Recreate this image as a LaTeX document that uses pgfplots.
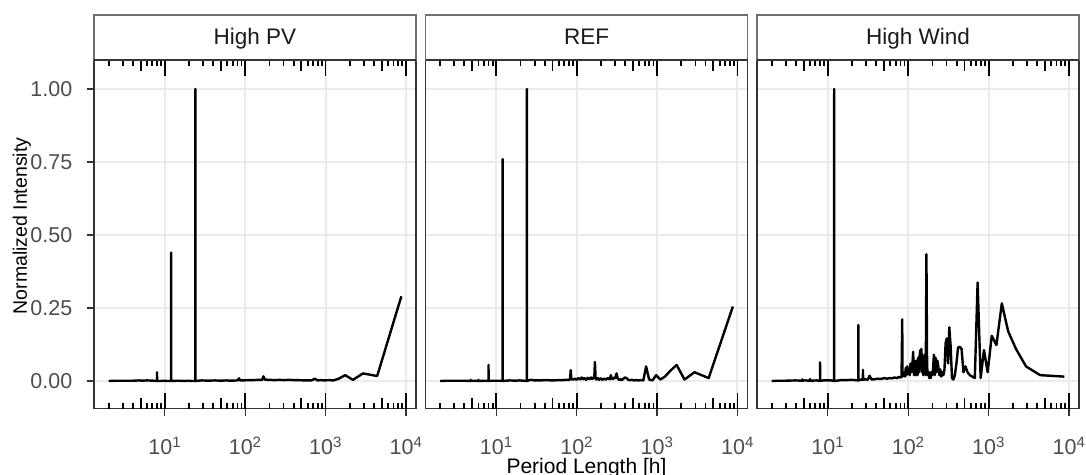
\documentclass[border=0pt]{standalone}
\usepackage{fontspec}
\setmainfont{Liberation Sans}
\usepackage{pgfplots}
\pgfplotsset{compat=1.18}
\usepackage{pgfplotstable}
\definecolor{grid92}{HTML}{EBEBEB}
\definecolor{grey20}{HTML}{333333}
\definecolor{grey30}{HTML}{4D4D4D}
\definecolor{grey10}{HTML}{1A1A1A}
\definecolor{stripborder}{HTML}{707070}

\pgfplotstableread{
P v
2 0
2.503 0.001
3.0 0.001
3.98 0.001
4.8 0.002
5.153 0.001
6 0.002
7.3 0.001
7.993 0
8 0.03
8.007 0
8.76 0
9.733 0.001
10.95 0
11.984 0
12 0.44
12.016 0
14.6 0.001
17.52 0
19.47 0.001
21.9 0
23.93 0
24 1.0
24.07 0
25.76 0.001
29.2 0.002
35.04 0.001
41.7 0.002
50.1 0.001
58.4 0.002
67.4 0.001
79.6 0.002
84.2 0.009
85.9 0.002
95.2 0.002
106.8 0.003
125.1 0.003
146 0.004
162.2 0.004
168.5 0.016
175.2 0.005
199.1 0.004
230.5 0.003
265.5 0.004
302.1 0.003
350.4 0.004
398.2 0.003
461.1 0.003
547.5 0.002
625.7 0.002
673.8 0.002
730 0.008
796.4 0.002
876 0.003
973.3 0.002
1095 0.003
1251.4 0.002
1460 0.008
1752 0.02
2190 0.004
2920 0.026
4380 0.017
8760 0.29
}\pvdata

\pgfplotstableread{
P v
2 0
2.503 0.001
3.0 0.001
3.98 0.001
4.797 0
4.8 0.004
4.803 0
5.153 0.001
5.996 0
6 0.004
6.004 0
7.3 0.001
7.993 0
8 0.055
8.007 0
8.76 0.001
9.733 0.001
10.95 0.001
11.984 0
12 0.76
12.016 0
14.6 0.002
17.52 0.001
19.47 0.002
21.9 0.001
23.93 0
24 1.0
24.07 0
25.76 0.003
27.375 0.004
29.2 0.002
35.04 0.002
41.7 0.003
50.1 0.002
58.4 0.003
67.4 0.003
73 0.004
79.6 0.004
82.6 0.005
84.2 0.037
85.9 0.006
89.4 0.005
95.2 0.008
99.5 0.004
104.3 0.01
109.5 0.005
115.3 0.012
120 0.006
125.1 0.01
130.7 0.004
136.9 0.011
143.6 0.006
151 0.012
156.4 0.007
162.2 0.012
165.3 0.01
168.5 0.065
171.8 0.008
175.2 0.005
182.5 0.01
190.4 0.004
199.1 0.009
208.6 0.004
219 0.008
230.5 0.005
243.3 0.01
257.6 0.006
265.5 0.02
273.8 0.008
282.6 0.006
292 0.012
302.1 0.01
312.9 0.026
324.4 0.008
336.9 0.004
350.4 0.006
365 0.003
380.9 0.008
398.2 0.012
417.1 0.01
438 0.004
461.1 0.003
486.7 0.004
515.3 0.002
547.5 0.003
584 0.002
625.7 0.003
673.8 0.002
730 0.05
796.4 0.005
876 0.002
973.3 0.02
1095 0.005
1251.4 0.015
1460 0.035
1752 0.055
2190 0.005
2920 0.03
4380 0.01
8760 0.255
}\refdata

\pgfplotstableread{
P v
2 0
2.503 0.001
3.0 0.001
3.98 0.002
4.797 0.001
4.8 0.006
4.803 0.001
5.153 0.002
5.996 0.001
6 0.007
6.004 0.001
7.3 0.002
7.993 0
8 0.064
8.007 0
8.76 0.002
9.733 0.002
10.95 0.002
11.984 0
12 1.0
12.016 0
14.6 0.003
17.52 0.003
19.47 0.004
21.9 0.003
23.93 0.002
24 0.192
24.07 0.002
25.76 0.005
27.29 0.004
27.375 0.038
27.46 0.004
29.2 0.006
31.3 0.004
33.06 0.018
35.04 0.005
38.1 0.006
41.7 0.008
46.1 0.007
50.1 0.01
54.75 0.008
58.4 0.01
62.6 0.009
67.4 0.012
73 0.01
76.2 0.014
79.6 0.012
82.6 0.015
84.2 0.211
85.0 0.015
85.9 0.02
89.4 0.03
91.25 0.015
93.2 0.045
95.2 0.02
97.3 0.05
99.5 0.025
101.9 0.04
104.3 0.02
106.8 0.06
109.5 0.03
112.3 0.05
115.3 0.1
116.8 0.03
118.4 0.02
120 0.06
121.7 0.04
123.4 0.02
125.1 0.07
127.0 0.03
128.8 0.05
130.7 0.02
132.7 0.08
134.8 0.04
136.9 0.03
139.0 0.09
141.3 0.106
143.6 0.04
146 0.11
148.5 0.03
151.0 0.07
153.7 0.02
156.4 0.05
159.3 0.09
162.2 0.03
165.3 0.02
168.5 0.434
171.8 0.05
175.2 0.02
178.8 0.03
182.5 0.01
186.4 0.03
190.4 0.01
194.7 0.03
199.1 0.02
203.7 0.04
208.6 0.09
213.7 0.02
219 0.08
224.6 0.03
230.5 0.07
236.8 0.05
243.3 0.02
250.3 0.04
257.6 0.015
265.5 0.03
273.8 0.02
282.6 0.04
292 0.13
302.1 0.146
312.9 0.06
324.4 0.184
336.9 0.12
350.4 0.01
365 0.005
380.9 0.02
398.2 0.06
417.1 0.115
438 0.117
461.1 0.11
486.7 0.03
515.3 0.05
547.5 0.03
584 0.02
625.7 0.015
673.8 0.01
730 0.337
796.4 0.01
876 0.106
973.3 0.03
1095 0.155
1251.4 0.123
1460 0.266
1752 0.17
2190 0.11
2920 0.05
4380 0.02
8760 0.015
}\winddata

\newcommand{\mainpanel}[3]{%
\begin{axis}[
    scale only axis, width=322pt, height=348.8pt,
    xmode=log,
    xmin=1.315, xmax=13325, ymin=-0.0952, ymax=1.0993,
    at={(#1pt,65.2pt)}, anchor=south west,
    xtick={10,100,1000,10000},
    xticklabels={10\textsuperscript{1},10\textsuperscript{2},10\textsuperscript{3},10\textsuperscript{4}},
    ytick={0,0.25,0.5,0.75,1},
    #2,
    xminorticks=false, yminorticks=false,
    grid=major,
    major grid style={grid92, line width=2pt},
    tick align=outside, xtick pos=bottom, ytick pos=left,
    major tick length=7.5pt,
    tick style={grey20, line width=1.3pt},
    axis line style={grey20, line width=1.3pt},
    ticklabel style={font=\fontsize{21.5}{21.5}\selectfont, text=grey30, inner sep=0pt},
    x tick label style={anchor=base, yshift=-38.6pt},
    y tick label style={anchor=east, xshift=-14pt},
]
\addplot[black, line width=2.4pt, line join=round] table[x=P,y=v]{#3};
\end{axis}
\begin{axis}[
    scale only axis, width=322pt, height=348.8pt,
    xmode=log,
    xmin=1.315, xmax=13325, ymin=-0.0952, ymax=1.0993,
    at={(#1pt,65.2pt)}, anchor=south west,
    axis line style={draw=none},
    xtick={10,100,1000,10000}, xticklabels={},
    minor xtick={2,3,4,6,7,8,9,20,30,40,60,70,80,90,200,300,400,600,700,800,900,2000,3000,4000,6000,7000,8000,9000},
    ytick=\empty,
    tick align=inside, xtick pos=both,
    major tick length=16pt, minor tick length=6pt,
    tick style={black, line width=1.8pt},
]
\end{axis}
\begin{axis}[
    scale only axis, width=322pt, height=348.8pt,
    xmode=log,
    xmin=1.315, xmax=13325, ymin=-0.0952, ymax=1.0993,
    at={(#1pt,65.2pt)}, anchor=south west,
    axis line style={draw=none},
    xtick={5,50,500,5000}, xticklabels={},
    xminorticks=false,
    ytick=\empty,
    tick align=inside, xtick pos=both,
    major tick length=11pt,
    tick style={black, line width=1.8pt},
]
\end{axis}
}

\newcommand{\strip}[2]{%
  \draw[stripborder, line width=1.2pt, fill=white] (#1pt,414pt) rectangle ++(322pt,45pt);
  \draw[grey20, line width=1.3pt] (#1pt,414pt) -- ++(322pt,0pt);
  \path (#1pt,429pt) ++(161pt,0pt) node[anchor=base, inner sep=0pt, text=grey10, font=\fontsize{22.5}{22.5}\selectfont] {#2};
}

\begin{document}
\begin{tikzpicture}
\mainpanel{94}{yticklabels={0.00,0.25,0.50,0.75,1.00}}{\pvdata}
\mainpanel{425.5}{yticklabels={}, y tick style={draw=none}}{\refdata}
\mainpanel{757}{yticklabels={}, y tick style={draw=none}}{\winddata}
\strip{94}{High PV}
\strip{425.5}{REF}
\strip{757}{High Wind}
\node[rotate=90, anchor=base, inner sep=0pt, font=\fontsize{19.5}{19.5}\selectfont] at (27pt,248pt) {Normalized Intensity};
\node[anchor=base, inner sep=0pt, font=\fontsize{21}{21}\selectfont] at (586.5pt,0.6pt) {Period Length [h]};
\pgfresetboundingbox
\path[use as bounding box] (0,0) rectangle (1086pt,474pt);
\end{tikzpicture}
\end{document}
